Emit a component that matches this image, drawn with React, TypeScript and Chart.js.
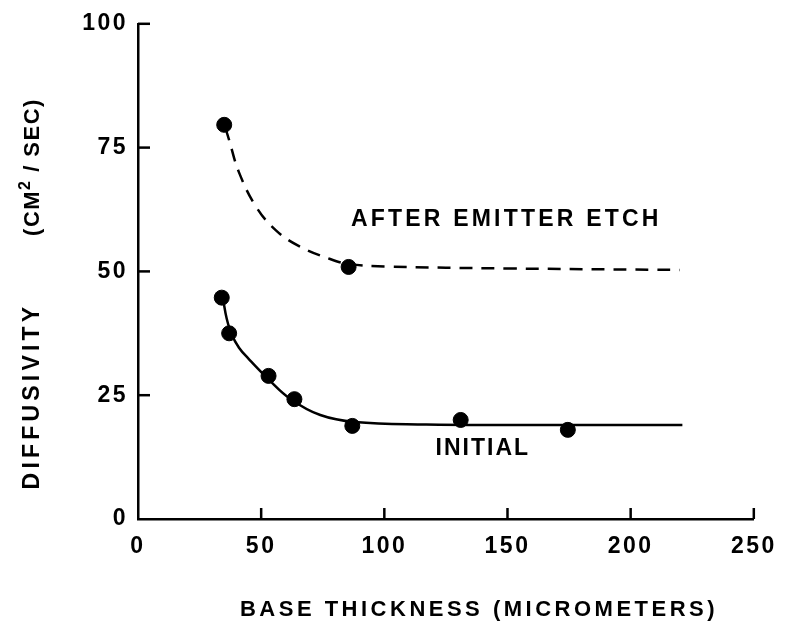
import React, { useEffect, useRef } from "react";
import { Chart, registerables } from "chart.js";

Chart.register(...registerables);

// ---- data ----
const xTicks = [0, 50, 100, 150, 200, 250];
const yTicks = [0, 25, 50, 75, 100];

const initialX = [34, 37, 53, 63.5, 87, 131, 174.5];
const initialY = [44.7, 37.5, 28.9, 24.2, 18.8, 20, 18];

const etchX = [35, 85.5];
const etchY = [79.6, 50.9];

const initialFitX = [34.5, 36, 38, 41, 45, 53, 62, 74, 88, 117, 150, 221];
const initialFitY = [44.5, 40.5, 37.3, 34.6, 32.3, 28.2, 24.2, 21.0, 19.6, 19.1, 19.0, 19.0];

const etchFitX = [35.5, 37, 41, 48, 56, 65, 78, 85.5, 100, 150, 220];
const etchFitY = [79, 76.5, 70.0, 63.0, 58.3, 55.2, 52.5, 51.5, 51, 50.6, 50.3];

const xTitle = "BASE THICKNESS (MICROMETERS)";
const yTitleMain = "DIFFUSIVITY";
const yTitleUnitA = "(CM";
const yTitleUnitSup = "2";
const yTitleUnitB = " / SEC)";
const labelEtch = "AFTER EMITTER ETCH";
const labelInitial = "INITIAL";

const FAMILY = "'Liberation Sans', Arial, Helvetica, sans-serif";

const pts = (xs: number[], ys: number[]) => xs.map((x, i) => ({ x, y: ys[i] }));

const annotPlugin = {
  id: "annot",
  beforeDraw(chart: any) {
    chart.ctx.letterSpacing = "2.5px";
  },
  afterDraw(chart: any) {
    const { ctx, chartArea, scales } = chart;
    const xs = scales.x;
    const ys = scales.y;
    ctx.save();
    ctx.strokeStyle = "#000";
    ctx.fillStyle = "#000";
    ctx.lineWidth = 2.5;
    ctx.lineCap = "butt";
    // inward tick marks
    for (const v of yTicks) {
      if (v === 0) continue;
      const py = ys.getPixelForValue(v);
      ctx.beginPath();
      ctx.moveTo(chartArea.left, py);
      ctx.lineTo(chartArea.left + 12, py);
      ctx.stroke();
    }
    for (const v of xTicks) {
      if (v === 0) continue;
      const px = xs.getPixelForValue(v);
      ctx.beginPath();
      ctx.moveTo(px, chartArea.bottom);
      ctx.lineTo(px, chartArea.bottom - 11);
      ctx.stroke();
    }

    ctx.textBaseline = "middle";
    ctx.textAlign = "center";

    // curve labels
    ctx.font = `bold 23px ${FAMILY}`;
    ctx.letterSpacing = "3.2px";
    ctx.fillText(labelEtch, xs.getPixelForValue(149.5), ys.getPixelForValue(60.5));
    ctx.letterSpacing = "2px";
    ctx.fillText(labelInitial, xs.getPixelForValue(140), ys.getPixelForValue(14.2));

    // x title
    ctx.font = `bold 22px ${FAMILY}`;
    ctx.letterSpacing = "3.5px";
    ctx.fillText(xTitle, 479, 610);

    // y title (rotated)
    ctx.save();
    ctx.translate(33, 396);
    ctx.rotate(-Math.PI / 2);
    ctx.font = `bold 23px ${FAMILY}`;
    ctx.letterSpacing = "4.2px";
    ctx.fillText(yTitleMain, 0, 0);
    ctx.restore();

    ctx.save();
    ctx.translate(33, 167);
    ctx.rotate(-Math.PI / 2);
    ctx.textAlign = "left";
    ctx.letterSpacing = "1.5px";
    ctx.font = `bold 22px ${FAMILY}`;
    const wA = ctx.measureText(yTitleUnitA).width;
    const wB = ctx.measureText(yTitleUnitB).width;
    ctx.font = `bold 16px ${FAMILY}`;
    const wS = ctx.measureText(yTitleUnitSup).width;
    let cx = -(wA + wS + wB) / 2;
    ctx.font = `bold 22px ${FAMILY}`;
    ctx.fillText(yTitleUnitA, cx, 0);
    cx += wA;
    ctx.font = `bold 16px ${FAMILY}`;
    ctx.fillText(yTitleUnitSup, cx, -7);
    cx += wS;
    ctx.font = `bold 22px ${FAMILY}`;
    ctx.fillText(yTitleUnitB, cx, 0);
    ctx.restore();

    ctx.restore();
  },
};

export default function App() {
  const ref = useRef<HTMLCanvasElement | null>(null);
  useEffect(() => {
    if (!ref.current) return;
    const tickFont = { family: FAMILY, size: 23, weight: "bold" as const };
    const chart = new Chart(ref.current, {
      type: "scatter",
      data: {
        datasets: [
          {
            label: "Initial (fit)",
            data: pts(initialFitX, initialFitY),
            showLine: true,
            borderColor: "#000",
            borderWidth: 2.5,
            pointRadius: 0,
            tension: 0.4,
            fill: false,
          },
          {
            label: "After emitter etch (fit)",
            data: pts(etchFitX, etchFitY),
            showLine: true,
            borderColor: "#000",
            borderWidth: 2.5,
            borderDash: [13, 9],
            pointRadius: 0,
            tension: 0.4,
            fill: false,
          },
          {
            label: "Initial",
            data: pts(initialX, initialY),
            showLine: false,
            pointRadius: 7.5,
            backgroundColor: "#000",
            borderColor: "#000",
          },
          {
            label: "After emitter etch",
            data: pts(etchX, etchY),
            showLine: false,
            pointRadius: 7.5,
            backgroundColor: "#000",
            borderColor: "#000",
          },
        ],
      },
      options: {
        responsive: false,
        animation: false,
        layout: { padding: { left: 0, top: 20, right: 26, bottom: 0 } },
        plugins: { legend: { display: false }, tooltip: { enabled: false } },
        scales: {
          x: {
            type: "linear",
            min: 0,
            max: 250,
            afterFit: (s: any) => {
              s.height = 119;
            },
            grid: { display: false, drawTicks: false },
            border: { display: true, color: "#000", width: 2.5 },
            ticks: {
              stepSize: 50,
              color: "#000",
              font: tickFont,
              padding: 14,
              maxRotation: 0,
              autoSkip: false,
            },
          },
          y: {
            type: "linear",
            min: 0,
            max: 100,
            afterFit: (s: any) => {
              s.width = 138;
            },
            grid: { display: false, drawTicks: false },
            border: { display: true, color: "#000", width: 2.5 },
            ticks: {
              stepSize: 25,
              color: "#000",
              font: tickFont,
              padding: 10,
              autoSkip: false,
            },
          },
        },
      },
      plugins: [annotPlugin],
    });
    return () => chart.destroy();
  }, []);
  return (
    <div style={{ position: "absolute", left: 0, top: 0, width: 787, height: 638, background: "#fff" }}>
      <canvas ref={ref} width={787} height={638} style={{ display: "block" }} />
    </div>
  );
}
